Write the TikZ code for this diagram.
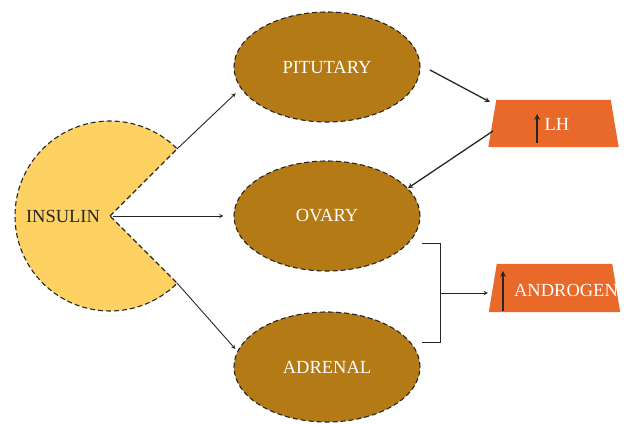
\documentclass[tikz,border=0pt]{standalone}
\usepackage{fontspec}
\setmainfont{Liberation Serif}
\usepackage{tikz}
\usetikzlibrary{positioning}
\usetikzlibrary{shapes}
\definecolor{glandbrown}{HTML}{B37A16}
\definecolor{insyellow}{HTML}{FDD162}
\definecolor{hormorange}{HTML}{E8692A}
\definecolor{inkgray}{HTML}{262626}

\begin{document}
\begin{tikzpicture}[x=1pt,y=-1pt,>=stealth,
  gland/.style={ellipse,draw=inkgray,fill=glandbrown,line width=1.1pt,dash pattern=on 5pt off 3pt,
    minimum width=186pt,minimum height=110pt,text=white,font=\fontsize{18.5}{20}\selectfont},
  hormbox/.style={rectangle,minimum width=130pt,minimum height=47pt,inner sep=0pt},
  hormtext/.style={text=white,font=\fontsize{18.5}{20}\selectfont},
  uparrow/.style={->,draw=inkgray,line width=1.6pt},
  link/.style={->,draw=inkgray,line width=0.9pt}]
\useasboundingbox (0,0) rectangle (624,425);
% insulin
\filldraw[fill=insyellow,draw=inkgray,line width=1.1pt,dash pattern=on 5pt off 3pt]
  (110,216) -- ++(-45:95) arc[start angle=-45,end angle=-315,radius=95] -- cycle;
\coordinate (apex) at (113,216);
\coordinate (mouthtop) at (177,149);
\coordinate (mouthbot) at (177,283);
\node[text=inkgray,font=\fontsize{18.5}{20}\selectfont] (ins) at (63,216) {INSULIN};
% glands
\node[gland] (pit) at (327,67) {PITUTARY};
\node[gland] (ova) at (327,216) {OVARY};
\node[gland] (adr) at (327,367) {ADRENAL};
% hormones
\node[hormbox] (lh) at (553.5,123.5) {};
\fill[hormorange] (lh.south west) -- ([xshift=8pt]lh.north west) -- ([xshift=-8pt]lh.north east) -- (lh.south east) -- cycle;
\node[hormtext] (lhtxt) at (557,124) {LH};
\draw[uparrow] (537,143) -- (537,114);
\node[hormbox,minimum width=131pt,minimum height=48pt] (andr) at (554.5,288) {};
\fill[hormorange] (andr.south west) -- ([xshift=8pt]andr.north west) -- ([xshift=-8pt]andr.north east) -- (andr.south east) -- cycle;
\node[hormtext] (andrtxt) at (566,290) {ANDROGEN};
\draw[uparrow] (503,311) -- (503,271);
% links
\draw[link,shorten >=7pt] (mouthtop) -- (pit.194);
\draw[link,shorten >=10pt] (apex) -- (ova.west);
\draw[link,shorten >=3pt] (mouthbot) -- (adr.170);
\coordinate (pitout) at (430,70);
\coordinate (lhin) at (490,102);
\draw[link,line width=1.3pt] (pitout) -- (lhin);
\coordinate (lhout) at (493,131);
\draw[link,line width=1.3pt] (lhout) -- (ova.19);
% bracket
\coordinate (brtop) at (422,243);
\coordinate (brbot) at (422,342);
\coordinate (brmid) at (440,293);
\draw[inkgray,line width=1pt] (brtop) -- (440,243) -- (440,342) -- (brbot);
\draw[link] (brmid) -- ([xshift=-1pt]brmid -| andr.west);
\end{tikzpicture}
\end{document}
